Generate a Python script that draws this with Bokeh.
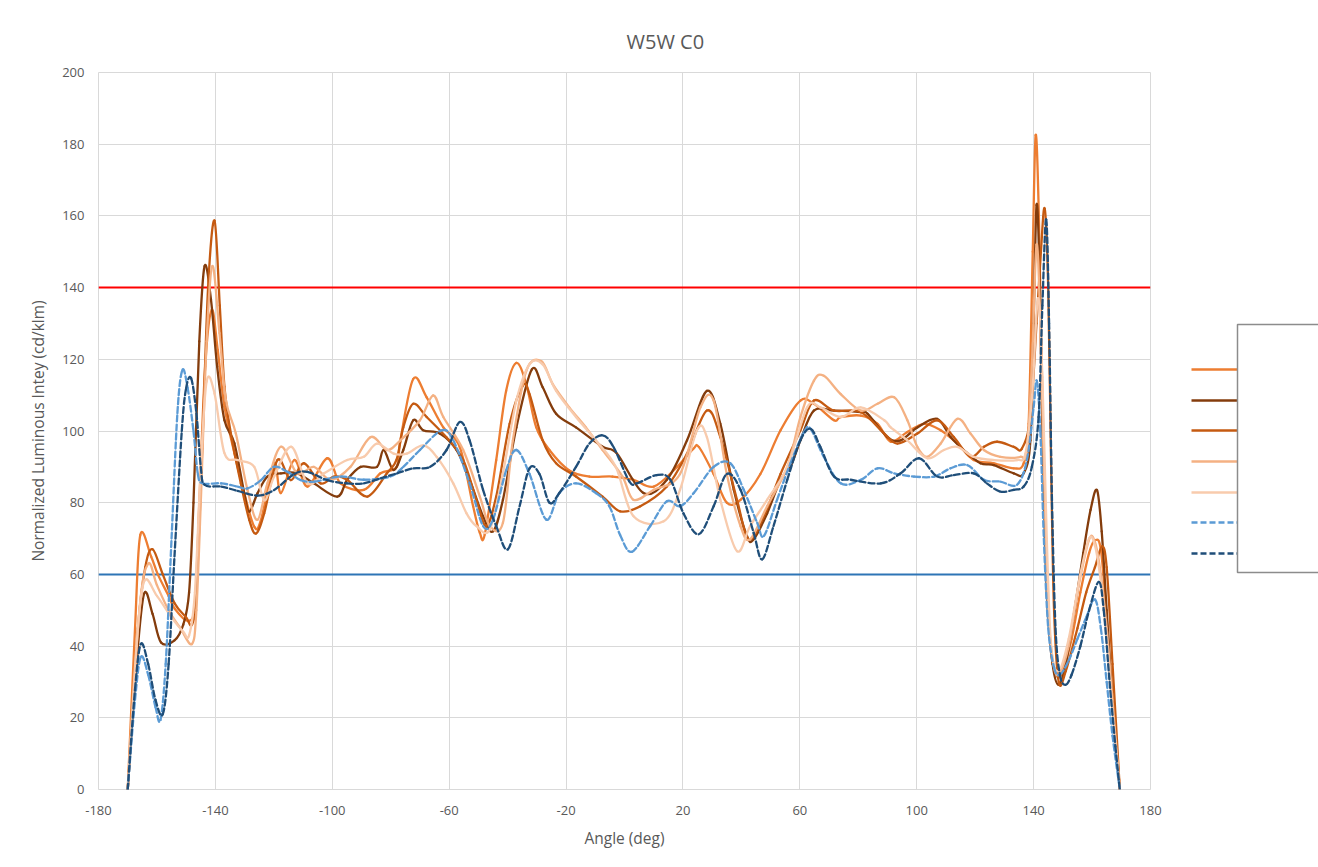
from bokeh.plotting import figure
from bokeh.layouts import row
from bokeh.models import Range1d, FixedTicker, Span
from bokeh.embed import file_html
from bokeh.resources import INLINE

# ---------------- data ----------------
title_text = "W5W C0"
x_label_text = "Angle (deg)"
y_label_text = "Normalized Luminous Intey (cd/klm)"
x_ticks = [-180, -140, -100, -60, -20, 20, 60, 100, 140, 180]
x_tick_labels = ["-180", "-140", "-100", "-60", "-20", "20", "60", "100", "140", "180"]
y_ticks = [0, 20, 40, 60, 80, 100, 120, 140, 160, 180, 200]
upper_limit = 140
lower_limit = 60

series_1 = [(-170, 0), (-167.5, 45), (-165.7, 71), (-162, 65), (-159.7, 60), (-156, 54), (-153.9, 50.4),
            (-149.3, 47), (-147, 52), (-145.5, 80), (-143.5, 118), (-141.25, 133.8), (-139.2, 122.6),
            (-136.9, 106.8), (-133.5, 93.8), (-130.1, 82.6), (-126.7, 73.3), (-124.4, 75.2), (-119.9, 91),
            (-117.6, 82.7), (-113, 91.9), (-108.5, 84.5), (-101.7, 92.4), (-97.2, 85.4), (-89.2, 83.6),
            (-83.5, 88.2), (-78, 90), (-76.7, 97.4), (-72.3, 114.5), (-67.7, 109.4), (-62, 101),
            (-56.4, 95.6), (-51.8, 79), (-49.5, 71.6), (-47.8, 71.2), (-43.9, 91.9), (-40.5, 111.2),
            (-37, 119), (-33.6, 113), (-30.2, 101), (-25.7, 94.7), (-18.9, 89), (-12, 87.3), (-4.1, 87.3),
            (3.1, 86.4), (10, 84.5), (18, 90), (23.5, 95), (25.5, 95.5), (30.5, 88), (35, 80), (39.7, 80.8),
            (46.5, 88), (53.4, 100.2), (60.2, 108.5), (64.8, 107.6), (71.7, 103), (74, 103.9), (80.9, 104.3),
            (86.6, 102), (91.1, 97), (96.8, 99.7), (102.5, 102), (108.2, 100.2), (113.9, 96.5),
            (119.5, 91.9), (126.4, 91), (133.2, 89.6), (136.6, 91), (138.3, 102), (139.7, 150),
            (140.7, 182.5), (141.8, 160), (143, 110), (144.5, 60), (146, 38), (148, 31.6), (150, 33),
            (153, 42), (156, 55), (159, 66), (161, 69.5), (163, 67), (165, 48), (167, 25), (169.5, 0)]

series_2 = [(-170, 0), (-167, 35), (-164.4, 54.6), (-161.5, 49), (-158.6, 41), (-154, 41.6), (-151, 46),
            (-149, 55), (-147.5, 80), (-145.5, 125), (-143.7, 146), (-141.5, 136.6), (-139.4, 118),
            (-136.9, 103), (-133.5, 96.6), (-130.1, 82.6), (-128.4, 77.5), (-125.6, 82.6), (-122.2, 87.3),
            (-117.6, 88.2), (-112, 88.2), (-106.3, 85.4), (-98.3, 81.7), (-94.9, 86.4), (-90.3, 90),
            (-84.7, 90), (-82.4, 94.7), (-79, 89.1), (-75.7, 94.7), (-72.3, 103), (-68.9, 100.2),
            (-63.2, 99.3), (-57.5, 94.7), (-53, 86.4), (-48.4, 76.2), (-45, 72), (-41.6, 80.8), (-37, 101),
            (-31.7, 117.2), (-28, 112.2), (-23.4, 104.8), (-16.6, 101), (-7.5, 95.6), (-2.6, 93.7),
            (6.5, 82.7), (14.5, 86.4), (21.4, 97.4), (28.2, 111.2), (32.8, 102), (37.4, 83.6), (41.9, 70.7),
            (44.2, 69.8), (48.8, 77), (53.4, 86.4), (56.8, 90), (60.2, 97.4), (64.8, 105.7), (71.7, 105.7),
            (80.8, 105.3), (83.2, 104.8), (90, 98.3), (94.5, 97.4), (100.2, 101), (107, 103.4),
            (111.6, 98.3), (116.1, 94.7), (121.8, 91), (126.4, 90.5), (133.2, 88.2), (136.6, 88.2),
            (138.9, 97.4), (140, 130), (141, 163), (142, 145), (143, 100), (144.5, 55), (146.5, 35),
            (148.6, 29.2), (151, 35), (154, 50), (157, 66), (159.5, 78), (161.7, 83.5), (163.3, 72),
            (165, 50), (167, 25), (169.5, 0)]

series_3 = [(-170, 0), (-166.5, 45), (-164, 62), (-161.5, 67), (-158, 60), (-154, 52), (-150, 48), (-148, 46),
            (-146.5, 55), (-144.5, 95), (-142.5, 140), (-140.3, 158.7), (-138.5, 135), (-136.9, 112.4),
            (-134.7, 99.3), (-131.3, 85.4), (-128.4, 75.2), (-126.1, 71.4), (-123.3, 77), (-118.75, 91.9),
            (-114.2, 86.3), (-109.7, 91), (-104, 85.4), (-99.4, 87.3), (-94.9, 86.4), (-88, 81.7),
            (-81.3, 88.2), (-78, 92), (-75.7, 101), (-72.3, 107.6), (-67.7, 103.9), (-61, 98.3),
            (-55.2, 91.9), (-50.7, 80.8), (-47.3, 73.5), (-43.9, 81.7), (-39.3, 102), (-34.8, 112.6),
            (-32.5, 110.3), (-28, 97.4), (-23.4, 91), (-16.6, 87.3), (-7.5, 81.7), (-1.5, 77.6), (5.4, 79),
            (14.5, 84.5), (21.4, 93.7), (28.2, 105.7), (32.8, 98.3), (38.5, 80.8), (42.5, 69.8),
            (47.7, 76.2), (53.4, 88), (60.2, 100.2), (64.8, 108.5), (71.7, 105.7), (80.8, 105.3),
            (88.9, 99.3), (93.4, 96.5), (100.2, 99.3), (107, 103), (112.7, 98.3), (118.4, 92.8), (123, 95.6),
            (127.5, 97), (133.2, 95.6), (136, 95.1), (138.9, 103.9), (141, 130), (142.5, 150), (143.8, 162),
            (145, 140), (146, 90), (147, 50), (148.6, 30), (151, 33), (155, 45), (158, 55), (161, 62),
            (163.4, 67.8), (165, 62), (167, 35), (169.5, 0)]

series_4 = [(-170, 0), (-166, 50), (-163, 63), (-160, 57), (-156, 50), (-152, 45), (-148, 40.6), (-146.5, 50),
            (-145, 80), (-143, 125), (-141, 146), (-138.6, 127.3), (-136.4, 108.6), (-133, 99.3),
            (-129, 83.5), (-125.6, 75.2), (-122.2, 85.4), (-117.6, 95.6), (-112, 88.2), (-106.3, 90),
            (-100.6, 86.4), (-93.8, 90), (-86.9, 98.3), (-81.3, 94.7), (-76.7, 97.4), (-70, 103),
            (-65.5, 109.9), (-62, 103.9), (-55.2, 94.7), (-49.5, 81.7), (-46.1, 73.5), (-41.6, 74.4),
            (-38.2, 97.4), (-33.6, 116.8), (-28.5, 119.5), (-24.5, 113), (-18.9, 106.6), (-13.2, 101),
            (-7.5, 94.7), (-0.7, 87.3), (3.1, 80.8), (10, 83.6), (19, 88), (26, 106.6), (30.5, 108.5),
            (35, 88), (39.7, 73.5), (43, 69.8), (48.8, 79), (55.7, 90), (60.2, 103.9), (64.8, 114),
            (68.2, 115.4), (74, 110.3), (80.9, 105.7), (86.6, 107.6), (92.3, 109.4), (96.8, 103),
            (100.2, 95.6), (103.6, 92.8), (108.2, 96.5), (113.9, 103.4), (118.4, 99.3), (123, 94.7),
            (128.6, 92.8), (135.5, 92.8), (137.7, 94.7), (139.5, 120), (141, 152), (142.3, 130), (143.5, 90),
            (145, 50), (147, 34), (149, 32.7), (152, 40), (155, 55), (158.9, 69.5), (161, 69), (163, 60),
            (165, 45), (167, 25), (169.5, 0)]

series_5 = [(-170, 0), (-167, 40), (-164.4, 58), (-160, 54), (-155, 48), (-151, 44), (-149, 43), (-147, 55),
            (-145, 90), (-143, 113.8), (-140.3, 110.5), (-136.9, 93.8), (-132.4, 91.9), (-126.7, 90),
            (-123.3, 80.7), (-119.9, 87.3), (-114, 95.6), (-108.5, 85.4), (-102.8, 88.2), (-94.9, 91.9),
            (-89.2, 92.8), (-84.7, 96.5), (-79, 93.7), (-74.5, 93.7), (-68.9, 96), (-64.3, 92.8),
            (-58.6, 85.4), (-54.1, 77.1), (-50.7, 73.5), (-46.1, 72.5), (-41.6, 88.2), (-37, 108.5),
            (-32.5, 118.6), (-28, 118.6), (-23.4, 111.2), (-16.6, 103.9), (-9.8, 97.4), (-3, 90),
            (3.1, 76.2), (13.4, 74.8), (19, 83.6), (24.8, 100.2), (28.2, 98.3), (32.8, 80.8), (38.5, 66.5),
            (43, 73.5), (48.8, 80.8), (55.7, 90), (62.5, 106.6), (67, 106.6), (74, 103.9), (80.8, 106.6),
            (88.9, 103), (91.1, 101), (96.8, 97.4), (103.6, 92.4), (109.3, 94.7), (113.9, 95.6),
            (119.5, 92.8), (126.4, 91.9), (134.3, 91.9), (137.2, 93.7), (139.5, 110), (141.5, 137),
            (143, 115), (144.5, 70), (146, 40), (148.5, 33), (152, 42), (156, 60), (159, 70), (161, 68),
            (163, 58), (165, 42), (167, 22), (169.5, 0)]

series_6 = [(-170, 0), (-167.5, 25), (-165.5, 37), (-163, 32), (-160.5, 23), (-158.8, 19.4), (-157, 35),
            (-155, 70), (-153, 105), (-151.3, 117), (-149.5, 112), (-147.5, 100), (-146, 88), (-144.3, 85.4),
            (-138, 85.4), (-132.4, 84.5), (-129, 84), (-124.4, 86.3), (-120, 90), (-115.3, 88.6),
            (-110.8, 86.3), (-106, 85.9), (-97.2, 87.3), (-89.2, 86.4), (-80.1, 87.3), (-75.7, 90),
            (-70, 94.7), (-62.6, 100.2), (-58.6, 97.4), (-53, 85.4), (-48.4, 73.5), (-45, 75.3),
            (-40.5, 89), (-37, 94.7), (-32.5, 88), (-26.8, 75.3), (-22.3, 82.7), (-16.6, 85.4),
            (-9.8, 82.7), (-5.2, 79), (-1.5, 71), (2.5, 66.3), (8.8, 73.5), (14.5, 80.4), (19, 79),
            (23.7, 82.7), (30.5, 90), (36.2, 91), (40.8, 83.6), (45.4, 74.4), (47.7, 70.7), (52.2, 80.8),
            (56.8, 91), (61.4, 99.7), (63.7, 100.6), (68.2, 92.8), (74, 85.4), (80.9, 86.4), (86.6, 89.6),
            (92.3, 88.2), (99.1, 87.3), (106, 87.3), (111.6, 89.6), (117.3, 90.5), (123, 86.4),
            (128.6, 85.9), (134.3, 85), (137.7, 91.9), (140, 106.6), (141.1, 114), (142.3, 100),
            (143.5, 70), (145, 45), (147, 34), (149, 32), (152, 36), (155, 42), (158, 48), (161, 53),
            (163, 45), (165, 30), (167, 15), (169.5, 0)]

series_7 = [(-170, 0), (-167.5, 28), (-165.5, 40.6), (-163, 35), (-160.5, 25), (-158, 21), (-156, 35),
            (-154, 65), (-151.5, 100), (-150, 112), (-148.3, 114.7), (-146.5, 105), (-145, 90), (-143.7, 85),
            (-138, 84.5), (-132.4, 83.3), (-125.6, 82), (-120, 83.5), (-113, 88), (-108.5, 88.6),
            (-101.7, 86.3), (-95, 85.4), (-89.2, 85.4), (-83.5, 86.8), (-77.8, 88.2), (-72.2, 89.6),
            (-66.5, 90), (-60.9, 94.7), (-56.4, 102.5), (-53, 97.4), (-48.4, 83.6), (-43.9, 73.5),
            (-39.9, 67), (-35.9, 79), (-32.5, 89.6), (-29.1, 88), (-25.7, 80), (-22.3, 82.7), (-16.6, 90),
            (-12, 96.5), (-7.5, 98.8), (-3.8, 95.6), (1.6, 86), (4.2, 85.4), (11, 87.7), (15.7, 86.4),
            (20.2, 77), (25.4, 71.2), (30.5, 79), (35, 88), (39.7, 83.6), (44.2, 71.6), (47.1, 64.2),
            (51, 73.5), (55.7, 86.4), (60.2, 97.4), (63.7, 100.6), (67, 95.6), (71.7, 87.3), (77.4, 86.4),
            (87.7, 85.4), (94.5, 88.2), (100.8, 92.4), (107, 87.3), (112.7, 87.7), (119.5, 88.2), (124, 85.4),
            (128.6, 83.1), (133.2, 83.6), (136.6, 84.5), (139.4, 90), (141.7, 103.9), (143, 135),
            (144.3, 159), (145.3, 130), (146.3, 80), (147.5, 45), (149, 32), (150.9, 29.2), (153, 32),
            (156, 40), (159, 50), (162.3, 57.9), (164, 50), (166, 30), (168, 12), (169.5, 0)]

series_list = [series_1, series_2, series_3, series_4, series_5, series_6, series_7]
series_colors = ["#ed7d31", "#843c0c", "#c55a11", "#f4b183", "#f8cbad", "#5b9bd5", "#1f4e79"]
series_dashes = ["solid", "solid", "solid", "solid", "solid", "6 3", "6 3"]

# ---------------- styling / layout ----------------
FONT = "Open Sans"
TXT = "#595959"
GRID = "#d9d9d9"
MAIN_W, H = 1170, 867
LEG_W = 1318 - MAIN_W
FRAME_TOP, FRAME_BOTTOM = 72, 789

p = figure(width=MAIN_W, height=H, x_range=Range1d(-180, 180), y_range=Range1d(0, 200),
           output_backend="svg", toolbar_location=None,
           min_border_left=98, min_border_right=MAIN_W - 1150,
           min_border_top=FRAME_TOP, min_border_bottom=H - FRAME_BOTTOM)
p.background_fill_color = "white"
p.border_fill_color = "white"
p.outline_line_color = GRID

p.title.text = title_text
p.title.align = "left"
p.title.offset = 528
p.title.standoff = 36
p.title.text_font = FONT
p.title.text_font_size = "20px"
p.title.text_font_style = "normal"
p.title.text_color = TXT

for ax, ticks, lab in ((p.xaxis[0], x_ticks, x_label_text), (p.yaxis[0], y_ticks, y_label_text)):
    ax.ticker = FixedTicker(ticks=ticks)
    ax.axis_line_color = None
    ax.major_tick_line_color = None
    ax.minor_tick_line_color = None
    ax.major_tick_out = 0
    ax.major_tick_in = 0
    ax.major_label_text_font = FONT
    ax.major_label_text_font_size = "13px"
    ax.major_label_text_color = TXT
    ax.axis_label = lab
    ax.axis_label_text_font = FONT
    ax.axis_label_text_font_size = "15.5px"
    ax.axis_label_text_font_style = "normal"
    ax.axis_label_text_color = TXT
p.xaxis[0].major_label_overrides = dict(zip(x_ticks, x_tick_labels))
p.xaxis[0].major_label_standoff = 16
p.yaxis[0].major_label_standoff = 14
p.xaxis[0].axis_label_standoff = 9
p.yaxis[0].axis_label_standoff = 10

p.xgrid.ticker = FixedTicker(ticks=x_ticks)
p.ygrid.ticker = FixedTicker(ticks=y_ticks)
for g in (p.xgrid[0], p.ygrid[0]):
    g.grid_line_color = GRID
    g.grid_line_width = 1

p.add_layout(Span(location=upper_limit, dimension="width", line_color="#ff0000", line_width=2, level="underlay"))
p.add_layout(Span(location=lower_limit, dimension="width", line_color="#2e75b6", line_width=2, level="underlay"))


def smooth_segments(points):
    """Cubic Bezier pieces through the read points (Excel-style smoothed line)."""
    n = len(points)
    out = {k: [] for k in ("x0", "y0", "x1", "y1", "cx0", "cy0", "cx1", "cy1")}
    for i in range(n - 1):
        pa = points[max(i - 1, 0)]
        pb = points[i]
        pc = points[i + 1]
        pd = points[min(i + 2, n - 1)]
        out["x0"].append(pb[0]); out["y0"].append(pb[1])
        out["x1"].append(pc[0]); out["y1"].append(pc[1])
        out["cx0"].append(pb[0] + (pc[0] - pa[0]) / 6.0)
        out["cy0"].append(pb[1] + (pc[1] - pa[1]) / 6.0)
        out["cx1"].append(pc[0] - (pd[0] - pb[0]) / 6.0)
        out["cy1"].append(pc[1] - (pd[1] - pb[1]) / 6.0)
    return out


for data, col, dash in zip(series_list, series_colors, series_dashes):
    seg = smooth_segments(data)
    p.bezier(x0=seg["x0"], y0=seg["y0"], x1=seg["x1"], y1=seg["y1"],
             cx0=seg["cx0"], cy0=seg["cy0"], cx1=seg["cx1"], cy1=seg["cy1"],
             line_color=col, line_width=2.3, line_dash=dash, line_cap="round")

# ---------------- legend panel (labels not visible in the reference) ----------------
# this figure's frame is aligned with the main frame (page y 72..789), so its y range uses page pixels
leg = figure(width=LEG_W, height=H, x_range=Range1d(MAIN_W, 1318), y_range=Range1d(FRAME_BOTTOM, FRAME_TOP),
             output_backend="svg", toolbar_location=None,
             x_axis_location=None, y_axis_location=None,
             min_border_left=0, min_border_right=0, min_border_top=FRAME_TOP,
             min_border_bottom=H - FRAME_BOTTOM)
leg.grid.visible = False
leg.outline_line_color = None
leg.background_fill_color = "white"
leg.border_fill_color = "white"

legend_rows = [369, 400, 430, 461, 492, 522, 553]
for yy, col, dash in zip(legend_rows, series_colors, series_dashes):
    leg.line([1191, 1237], [yy, yy], line_color=col, line_width=2.3, line_dash=dash)
leg.line([1330, 1237, 1237, 1330], [324, 324, 572, 572], line_color="#8c8c8c", line_width=1.5)

layout = row(p, leg, spacing=0)
open("out.html", "w").write(file_html(layout, INLINE))
